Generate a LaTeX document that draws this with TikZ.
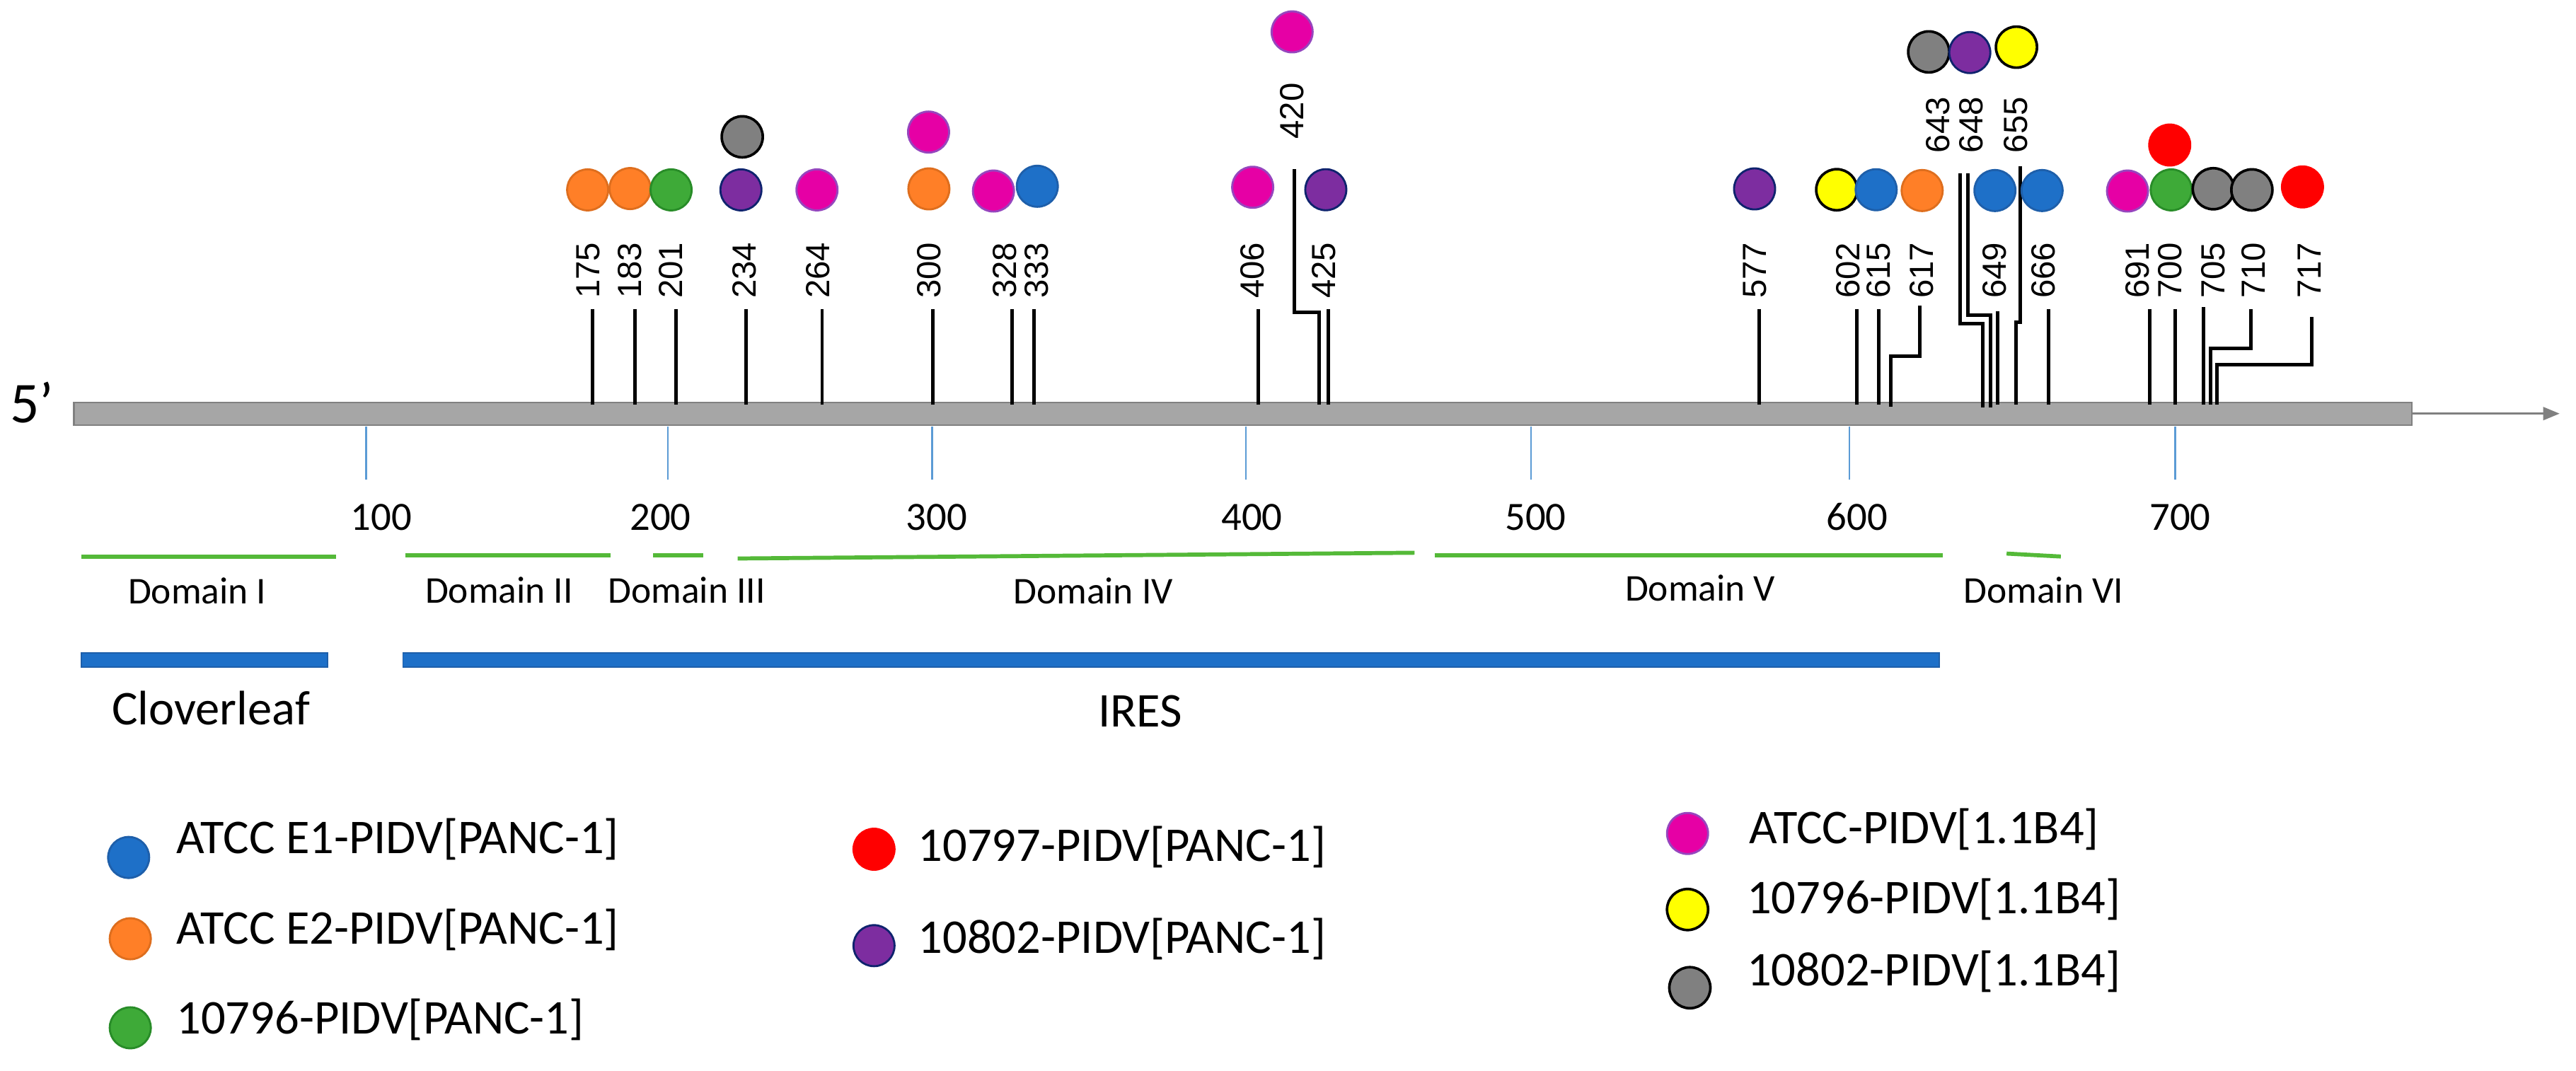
\documentclass[tikz,border=0pt]{standalone}
\usepackage{fontspec}
\setmainfont{Carlito}
\newfontfamily\arialf{Liberation Sans}
\usetikzlibrary{arrows.meta}
\definecolor{orF}{RGB}{255,127,39}
\definecolor{orD}{RGB}{222,110,30}
\definecolor{grF}{RGB}{62,170,56}
\definecolor{grD}{RGB}{40,140,40}
\definecolor{blF}{RGB}{30,112,200}
\definecolor{blD}{RGB}{30,95,170}
\definecolor{puF}{RGB}{125,45,160}
\definecolor{puD}{RGB}{15,35,110}
\definecolor{mgF}{RGB}{230,0,165}
\definecolor{mgD}{RGB}{150,70,190}
\definecolor{gyF}{RGB}{128,128,128}
\definecolor{ylF}{RGB}{255,255,0}
\definecolor{rdF}{RGB}{255,0,0}
\definecolor{barF}{RGB}{166,166,166}
\definecolor{barD}{RGB}{128,128,128}
\definecolor{tickC}{RGB}{91,155,213}
\definecolor{domC}{RGB}{84,185,56}
\begin{document}
\begin{tikzpicture}[x=0.02cm,y=-0.02cm,
  mk/.style={circle,minimum size=0.5cm,inner sep=0pt,line width=0.7pt},
  mkOr/.style={mk,fill=orF,draw=orD},
  mkGr/.style={mk,fill=grF,draw=grD},
  mkBl/.style={mk,fill=blF,draw=blD},
  mkPu/.style={mk,fill=puF,draw=puD},
  mkMg/.style={mk,fill=mgF,draw=mgD},
  mkGy/.style={mk,fill=gyF,draw=black,line width=0.9pt},
  mkYl/.style={mk,fill=ylF,draw=black,line width=0.9pt},
  mkRd/.style={mk,fill=rdF,draw=rdF},
  numlab/.style={rotate=90,anchor=west,inner sep=0pt,font=\arialf\fontsize{11.6}{13}\selectfont},
  lead/.style={line width=1.2pt,draw=black},
  sctick/.style={draw=tickC,line width=0.6pt},
  sclab/.style={anchor=base,inner sep=0pt,font=\fontsize{13.9}{15}\selectfont},
  domline/.style={draw=domC,line width=1.4pt},
  domlab/.style={anchor=base,inner sep=0pt,font=\fontsize{13.1}{14}\selectfont},
  regbar/.style={fill=blF,draw=blD,line width=0.4pt},
  reglab/.style={anchor=base,inner sep=0pt,font=\fontsize{16.8}{18}\selectfont},
  leglab/.style={anchor=base west,inner sep=0pt,font=\fontsize{16.8}{18}\selectfont}]
\useasboundingbox (0,0) rectangle (1568,652);

% genome bar
\node[anchor=base,inner sep=0pt,font=\fontsize{20}{22}\selectfont] (five) at (19.5,257.5) {5’};
\draw[fill=barF,draw=barD,line width=0.5pt] (45,245) rectangle (1468,258.7);
\coordinate (barend) at (1468,251.8);
\coordinate (arrend) at (1558,251.8);
\draw[draw=gyF,line width=0.6pt,-{Triangle[length=0.2cm,width=0.16cm]}] (barend) -- (arrend);

% scale ticks and labels
\foreach \n/\x/\b in {100/222.9/232, 200/406.6/402, 300/567.3/570.2, 400/758.4/762, 500/932/934.7, 600/1125.8/1130.3, 700/1324/1327}{
  \coordinate (ta\n) at (\x,259.5);
  \coordinate (tb\n) at (\x,292);
  \draw[sctick] (ta\n) -- (tb\n);
  \node[sclab] (s\n) at (\b,322.6) {\n};
}

% domains
\draw[domline] (49.6,339) -- (204.6,339);
\draw[domline] (246.9,338) -- (371.6,338);
\draw[domline] (397.7,338) -- (428,338);
\draw[domline] (449,340) -- (861,336.5);
\draw[domline] (873.3,338.2) -- (1182.6,338.2);
\draw[domline] (1221.4,337) -- (1254.4,338.8);
\node[domlab] (d1) at (120,367.5) {Domain I};
\node[domlab] (d2) at (303.8,367) {Domain II};
\node[domlab] (d3) at (418,367) {Domain III};
\node[domlab] (d4) at (665.4,367.5) {Domain IV};
\node[domlab] (d5) at (1034.9,366) {Domain V};
\node[domlab] (d6) at (1243.8,367) {Domain VI};

% regions
\draw[regbar] (49.6,397.4) rectangle (199.4,406);
\draw[regbar] (245.3,397.6) rectangle (1180.3,406.2);
\node[reglab] (clover) at (128.4,441.4) {Cloverleaf};
\node[reglab] (ires) at (694,442.6) {IRES};

% straight leaders
\foreach \n/\x/\t in {175/360.8/188, 183/386.5/188, 201/411.5/188, 234/454.2/188, 264/500.4/188, 300/567.7/188, 328/616/188, 333/629.3/188, 406/766/188, 425/808.6/188, 577/1070.9/188, 602/1130.3/188, 615/1143.4/188, 649/1216/189.5, 666/1247/188, 691/1308.5/188, 700/1324/188, 705/1341.4/187}{
  \coordinate (t\n) at (\x,\t);
  \coordinate (b\n) at (\x,246.5);
  \draw[lead] (t\n) -- (b\n);
}
% jogged leaders
\coordinate (t420) at (788,103);   \coordinate (b420) at (803,246.5);
\draw[lead] (t420) |- (795,190) -| (b420);
\coordinate (t617) at (1168.4,186); \coordinate (b617) at (1151,247.5);
\draw[lead] (t617) |- (1160,216.7) -| (b617);
\coordinate (t643) at (1193,105.5); \coordinate (b643) at (1207,248);
\draw[lead] (t643) |- (1200,197) -| (b643);
\coordinate (t648) at (1198,105.5); \coordinate (b648) at (1211.5,248);
\draw[lead] (t648) |- (1205,192) -| (b648);
\coordinate (t655) at (1229.6,101); \coordinate (b655) at (1227,246.5);
\draw[lead] (t655) |- (1228,196) -| (b655);
\coordinate (t710) at (1370,188); \coordinate (b710) at (1345.5,246.5);
\draw[lead] (t710) |- (1360,212) -| (b710);
\coordinate (t717) at (1407,193); \coordinate (b717) at (1349.5,246.5);
\draw[lead] (t717) |- (1380,222) -| (b717);

% position labels
\foreach \n/\x in {175/358, 183/383.5, 201/408.5, 234/453, 264/498, 300/565.4, 328/611.7, 333/631, 406/762.5, 425/806, 577/1068, 602/1125, 615/1143.5, 617/1169.8, 649/1214, 666/1244, 691/1301, 700/1321, 705/1347, 710/1371.5, 717/1405.6}{
  \node[numlab] (l\n) at (\x,182) {\n};
}
\node[numlab] (l420) at (786.5,85) {420};
\node[numlab] (l643) at (1179.7,93.4) {643};
\node[numlab] (l648) at (1200,93.4) {648};
\node[numlab] (l655) at (1226.8,93.4) {655};

% markers
\node[mkOr] (m175) at (357.7,115.6) {};
\node[mkOr] (m183) at (383.5,114.8) {};
\node[mkGr] (m201) at (408.5,115.6) {};
\node[mkPu] (m234) at (451,115.6) {};
\node[mkGy] (m234b) at (451.8,83.3) {};
\node[mkMg] (m264) at (497.3,115.6) {};
\node[mkOr] (m300) at (565.4,115) {};
\node[mkMg] (m300b) at (565.2,80.4) {};
\node[mkMg] (m328) at (604.7,116.3) {};
\node[mkBl] (m333) at (631.4,113.4) {};
\node[mkMg] (m406) at (762.5,114) {};
\node[mkPu] (m425) at (807,115.5) {};
\node[mkMg] (m420) at (786.5,19.4) {};
\node[mkPu] (m577) at (1068,115) {};
\node[mkYl] (m602) at (1118,115.5) {};
\node[mkBl] (m615) at (1142,115.5) {};
\node[mkOr] (m617) at (1170,116) {};
\node[mkBl] (m649) at (1214.3,116) {};
\node[mkBl] (m666) at (1243,116) {};
\node[mkGy] (m643) at (1174,31.6) {};
\node[mkPu] (m648) at (1199,32) {};
\node[mkYl] (m655) at (1227.4,28.7) {};
\node[mkMg] (m691) at (1295,116.3) {};
\node[mkGr] (m700) at (1321.6,115.6) {};
\node[mkRd] (m700b) at (1320.7,88.3) {};
\node[mkGy] (m705) at (1347.2,114.9) {};
\node[mkGy] (m710) at (1370.7,115.6) {};
\node[mkRd] (m717) at (1401.5,113.8) {};

% legend
\node[mkBl] (k1) at (78.3,522) {};
\node[leglab] (k1t) at (107,519.5) {ATCC E1-PIDV[PANC-1]};
\node[mkOr] (k2) at (79.3,571.5) {};
\node[leglab] (k2t) at (107,574.5) {ATCC E2-PIDV[PANC-1]};
\node[mkGr] (k3) at (79.3,625.7) {};
\node[leglab] (k3t) at (107,629.4) {10796-PIDV[PANC-1]};
\node[mkRd] (k4) at (532,517) {};
\node[leglab] (k4t) at (558.5,524.4) {10797-PIDV[PANC-1]};
\node[mkPu] (k5) at (532,575.7) {};
\node[leglab] (k5t) at (558.5,580.5) {10802-PIDV[PANC-1]};
\node[mkMg] (k6) at (1027.2,507.4) {};
\node[leglab] (k6t) at (1064.5,513.4) {ATCC-PIDV[1.1B4]};
\node[mkYl] (k7) at (1027.2,553.7) {};
\node[leglab] (k7t) at (1063,556.2) {10796-PIDV[1.1B4]};
\node[mkGy] (k8) at (1028.6,601.3) {};
\node[leglab] (k8t) at (1063,600) {10802-PIDV[1.1B4]};
\end{tikzpicture}
\end{document}
